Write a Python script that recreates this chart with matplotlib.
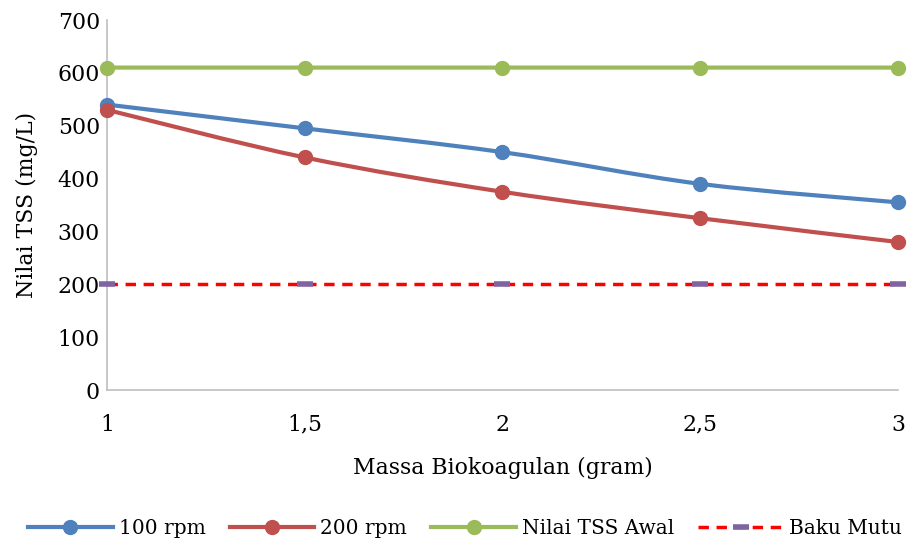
import matplotlib; matplotlib.use('Agg')
import matplotlib.pyplot as plt
from matplotlib.path import Path
from matplotlib.patches import PathPatch
from matplotlib.lines import Line2D

plt.rcParams['font.family'] = ['DejaVu Serif']

massa = [1, 1.5, 2, 2.5, 3]
x_labels = ['1', '1,5', '2', '2,5', '3']
rpm100 = [540, 495, 450, 390, 355]
rpm200 = [530, 440, 375, 325, 280]
tss_awal = [610, 610, 610, 610, 610]
baku_mutu = [200, 200, 200, 200, 200]

BLUE = '#4F81BD'; RED = '#C0504D'; GREEN = '#9BBB59'; PURPLE = '#8064A2'
FS = 15.8


def smooth_path(xs, ys, t=1/6):
    # garis halus ala Excel: Catmull-Rom -> bezier kubik
    verts = [(xs[0], ys[0])]; codes = [Path.MOVETO]
    n = len(xs)
    for i in range(n - 1):
        x0, y0 = (xs[i-1], ys[i-1]) if i > 0 else (xs[i], ys[i])
        x1, y1 = xs[i], ys[i]
        x2, y2 = xs[i+1], ys[i+1]
        x3, y3 = (xs[i+2], ys[i+2]) if i + 2 < n else (x2, y2)
        c1 = (x1 + (x2 - x0) * t, y1 + (y2 - y0) * t)
        c2 = (x2 - (x3 - x1) * t, y2 - (y3 - y1) * t)
        verts += [c1, c2, (x2, y2)]; codes += [Path.CURVE4] * 3
    return Path(verts, codes)


fig = plt.figure(figsize=(9.08, 5.45), dpi=100)
ax = fig.add_axes([0.1178, 0.2844, 0.8711, 0.6789])

for ys, col in [(rpm100, BLUE), (rpm200, RED), (tss_awal, GREEN)]:
    ax.add_patch(PathPatch(smooth_path(massa, ys), facecolor='none', edgecolor=col, lw=3,
                           capstyle='round', zorder=3, clip_on=False))
    ax.plot(massa, ys, ls='none', marker='o', ms=10, color=col, zorder=4, clip_on=False)

ax.plot(massa, baku_mutu, color='#FF0000', lw=2.5, ls=(0, (3, 2.2)), zorder=3, clip_on=False)
ax.plot(massa, baku_mutu, ls='none', marker='_', ms=12, mew=4, color=PURPLE, zorder=4, clip_on=False)

ax.set_xlim(1, 3); ax.set_ylim(0, 700)
ax.set_xticks(massa); ax.set_xticklabels(x_labels)
ax.set_yticks(range(0, 701, 100))
ax.tick_params(length=0, labelsize=FS)
ax.tick_params(axis='x', pad=17)
ax.tick_params(axis='y', pad=5)
for s in ['top', 'right']:
    ax.spines[s].set_visible(False)
for s in ['left', 'bottom']:
    ax.spines[s].set_color('#BFBFBF'); ax.spines[s].set_linewidth(1.2)
ax.set_xlabel('Massa Biokoagulan (gram)', fontsize=FS, labelpad=15)
ax.set_ylabel('Nilai TSS (mg/L)', fontsize=FS, labelpad=14)

handles = [Line2D([], [], color=BLUE, lw=3, marker='o', ms=10),
           Line2D([], [], color=RED, lw=3, marker='o', ms=10),
           Line2D([], [], color=GREEN, lw=3, marker='o', ms=10),
           Line2D([], [], color='#FF0000', lw=2.5, ls=(0, (3, 2.2)), marker='_', ms=12, mew=4, mec=PURPLE)]
fig.legend(handles, ['100 rpm', '200 rpm', 'Nilai TSS Awal', 'Baku Mutu'], loc='lower center',
           bbox_to_anchor=(0.512, -0.02), ncol=4, frameon=False, fontsize=14.5, handlelength=4.2,
           handletextpad=0.3, columnspacing=1.2)

plt.savefig('out.png', dpi=100, facecolor='white')
